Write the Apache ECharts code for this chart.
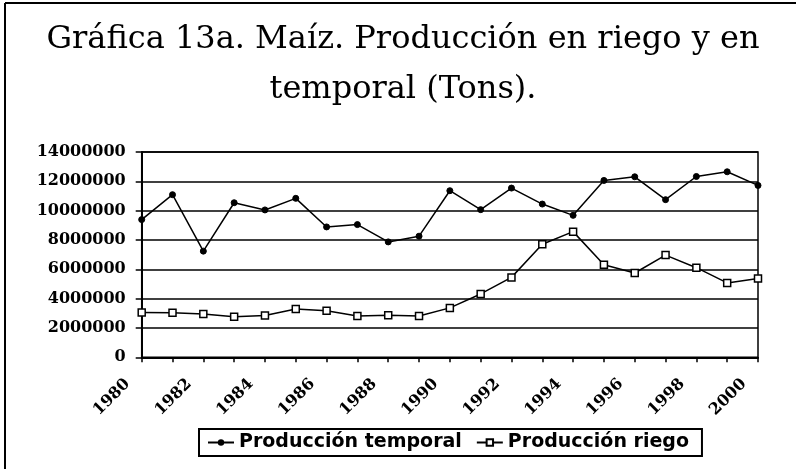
<!DOCTYPE html>
<html>
<head>
<meta charset="utf-8">
<script src="https://cdn.jsdelivr.net/npm/echarts@6/dist/echarts.min.js"></script>
<style>
html,body{margin:0;padding:0;background:#fff;}
#c{width:796px;height:469px;}
</style>
</head>
<body>
<div id="c"></div>
<script>
const years = ['1980','1981','1982','1983','1984','1985','1986','1987','1988','1989','1990','1991','1992','1993','1994','1995','1996','1997','1998','1999','2000'];
const temporal = [9390000,11090000,7240000,10540000,10050000,10840000,8890000,9050000,7870000,8260000,11360000,10070000,11540000,10450000,9680000,12060000,12310000,10750000,12330000,12650000,11720000];
const riego = [3050000,3030000,2960000,2760000,2850000,3300000,3170000,2810000,2870000,2810000,3370000,4320000,5450000,7710000,8570000,6310000,5750000,6970000,6110000,5070000,5380000];
const yTicks = [0,2000000,4000000,6000000,8000000,10000000,12000000,14000000];
const seriesNames = ['Producción temporal','Producción riego'];
const titleText = 'Gráfica 13a. Maíz. Producción en riego y en\ntemporal (Tons).';

const chart = echarts.init(document.getElementById('c'), null, {renderer:'canvas'});
const axisFont = {fontFamily:'DejaVu Serif', fontWeight:'bold', fontSize:16, color:'#000'};
chart.setOption({
  backgroundColor:'#fff',
  animation:false,
  title:{
    text:titleText, left:403, textAlign:'center', top:15, padding:0,
    textStyle:{fontFamily:'DejaVu Serif', fontWeight:'normal', fontSize:32, lineHeight:50, color:'#000'}
  },
  graphic:[
    {type:'line', shape:{x1:5,y1:3,x2:5,y2:469}, style:{stroke:'#000', lineWidth:2}},
    {type:'line', shape:{x1:5,y1:3,x2:796,y2:3}, style:{stroke:'#000', lineWidth:2}}
  ],
  legend:{
    data:seriesNames, left:199, top:429, orient:'horizontal',
    borderColor:'#000', borderWidth:2, padding:[4,13,4,8],
    itemWidth:26, itemHeight:8, itemGap:14,
    textStyle:{fontFamily:'DejaVu Sans', fontWeight:'bold', fontSize:19, color:'#000'}
  },
  grid:{left:141.7, right:38, top:152, bottom:111.7, show:true, borderColor:'#000', borderWidth:1.5, backgroundColor:'transparent'},
  xAxis:{
    type:'category', data:years, boundaryGap:false,
    axisLine:{lineStyle:{color:'#000', width:2}},
    axisTick:{show:true, interval:0, length:5, lineStyle:{color:'#000', width:1.5}},
    axisLabel:Object.assign({interval:1, rotate:45, margin:10, padding:[0,20,0,0]}, axisFont),
    splitLine:{show:false}
  },
  yAxis:{
    type:'value', min:yTicks[0], max:yTicks[yTicks.length-1], interval:yTicks[1]-yTicks[0],
    axisLine:{show:true, lineStyle:{color:'#000', width:2}},
    axisTick:{show:true, length:6, lineStyle:{color:'#000', width:1.5}},
    axisLabel:Object.assign({margin:16, formatter:function(v){return String(v);}}, axisFont),
    splitLine:{show:true, lineStyle:{color:'#000', width:1.5}}
  },
  series:[
    {name:seriesNames[0], type:'line', data:temporal, symbol:'circle', symbolSize:6,
     lineStyle:{color:'#000', width:1.5}, itemStyle:{color:'#000', borderColor:'#000'}},
    {name:seriesNames[1], type:'line', data:riego, symbol:'rect', symbolSize:7,
     lineStyle:{color:'#000', width:1.5}, itemStyle:{color:'#fff', borderColor:'#000', borderWidth:1.5}}
  ]
});
</script>
</body>
</html>
